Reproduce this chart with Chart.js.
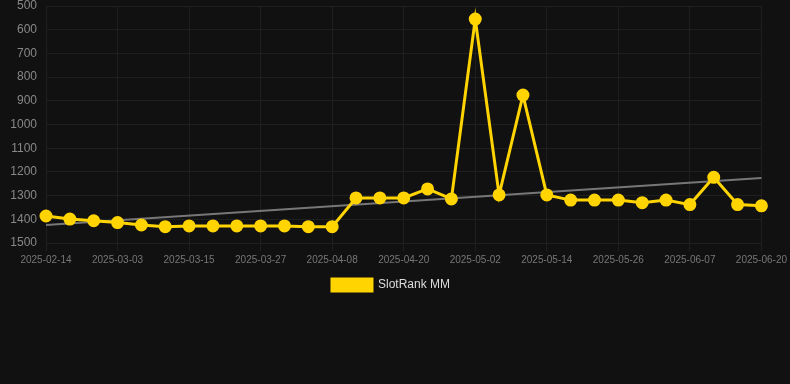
<!DOCTYPE html>
<html>
<head>
<meta charset="utf-8">
<script src="https://cdn.jsdelivr.net/npm/chart.js@4/dist/chart.umd.min.js"></script>
<style>
  html, body { margin: 0; padding: 0; background: #111111; }
  #wrap { width: 790px; height: 301px; }
</style>
</head>
<body>
<div id="wrap"><canvas id="myChart"></canvas></div>
<script>
  // DATA
  const dates = [
    '2025-02-14', '2025-02-20', '2025-02-26', '2025-03-03', '2025-03-07', '2025-03-11',
    '2025-03-15', '2025-03-19', '2025-03-23', '2025-03-27', '2025-03-31', '2025-04-04',
    '2025-04-08', '2025-04-12', '2025-04-16', '2025-04-20', '2025-04-24', '2025-04-28',
    '2025-05-02', '2025-05-06', '2025-05-10', '2025-05-14', '2025-05-18', '2025-05-22',
    '2025-05-26', '2025-05-30', '2025-06-03', '2025-06-07', '2025-06-11', '2025-06-15',
    '2025-06-20'
  ];
  const rank = [
    1386, 1399, 1406, 1414, 1424, 1431,
    1428, 1428, 1428, 1428, 1428, 1431,
    1431, 1310, 1310, 1310, 1272, 1314,
    555, 1297, 876, 1297, 1319, 1319,
    1319, 1330, 1319, 1338, 1223, 1338,
    1343
  ];
  // trend line end points
  const trendStart = 1424;
  const trendEnd = 1226;

  const yTicks = { min: 500, max: 1500, step: 100 };

  const gold = '#FFD400';

  // paints the dark background under the chart
  const bgPlugin = {
    id: 'bg',
    beforeDraw(chart) {
      const ctx = chart.ctx;
      ctx.save();
      ctx.fillStyle = '#111111';
      ctx.fillRect(0, 0, chart.width, chart.height);
      ctx.restore();
    }
  };

  const data = {
    labels: dates,
    datasets: [
      {
        label: 'SlotRank MM',
        data: rank,
        borderColor: gold,
        backgroundColor: gold,
        borderWidth: 3,
        pointRadius: 5,
        pointHoverRadius: 7,
        tension: 0
      },
      {
        label: 'trend',
        data: [
          { x: dates[0], y: trendStart },
          { x: dates[dates.length - 1], y: trendEnd }
        ],
        borderColor: '#777777',
        backgroundColor: '#777777',
        borderWidth: 2,
        pointRadius: 0,
        tension: 0
      }
    ]
  };

  const config = {
    type: 'line',
    data,
    plugins: [bgPlugin],
    options: {
      responsive: true,
      maintainAspectRatio: false,
      animation: false,
      layout: { autoPadding: false, padding: { left: 0, right: 8, top: 0, bottom: 0 } },
      plugins: {
        legend: {
          position: 'bottom',
          labels: {
            color: '#dddddd',
            boxWidth: 40,
            boxHeight: 12,
            font: { size: 12, family: 'Liberation Sans' },
            filter: (item) => item.text !== 'trend'
          }
        },
        tooltip: { enabled: false }
      },
      scales: {
        x: {
          grid: { color: '#1f1f1f', tickLength: 8 },
          border: { color: '#1f1f1f' },
          ticks: {
            color: '#777777',
            autoSkip: false,
            maxRotation: 0,
            font: { size: 10, family: 'Liberation Sans' },
            callback: function (val, idx) {
              return idx % 3 === 0 ? this.getLabelForValue(val) : null;
            }
          }
        },
        y: {
          reverse: true,
          min: yTicks.min,
          max: yTicks.max,
          grid: { color: '#1f1f1f', drawTicks: false, tickLength: 0 },
          border: { display: false },
          // fixed axis width and top padding so the plot area matches
          afterFit: (scale) => {
            scale.width = 46;
            scale.paddingTop = 6;
            scale.paddingBottom = 6;
          },
          ticks: {
            stepSize: yTicks.step,
            color: '#888888',
            padding: 9,
            font: { size: 12, family: 'Liberation Sans' },
            callback: (v) => String(v)
          }
        }
      }
    }
  };

  // RENDER
  const myChart = new Chart(document.getElementById('myChart'), config);
</script>
</body>
</html>
